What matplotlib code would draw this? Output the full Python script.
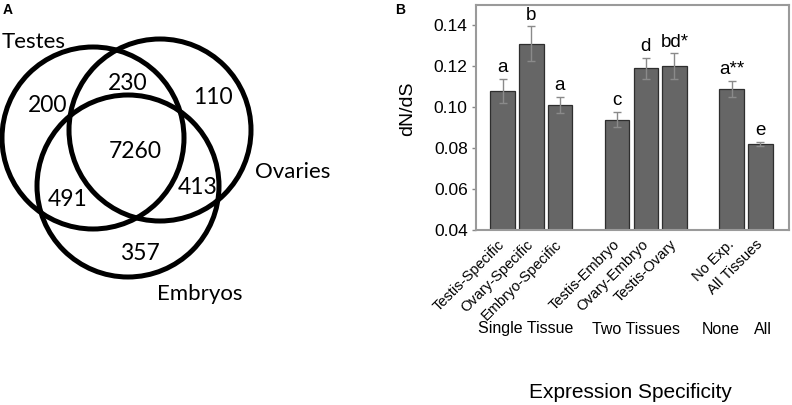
import matplotlib
matplotlib.use("Agg")
import matplotlib.pyplot as plt
from matplotlib.patches import Circle
import numpy as np

# ---------------------------------------------------------------------------
# Data
# ---------------------------------------------------------------------------

# Panel A: Venn counts
venn_sets   = ["Testes", "Ovaries", "Embryos"]
venn_labels = ["200", "230", "110", "7260", "491", "413", "357"]

# Panel B: dN/dS by expression specificity
categories = ["Testis-Specific", "Ovary-Specific", "Embryo-Specific",
              "Testis-Embryo", "Ovary-Embryo", "Testis-Ovary",
              "No Exp.", "All Tissues"]
dnds       = [0.108, 0.131, 0.101, 0.094, 0.119, 0.120, 0.109, 0.082]
dnds_err   = [0.006, 0.0085, 0.004, 0.0038, 0.005, 0.0063, 0.0038, 0.0009]
sig_letter = ["a", "b", "a", "c", "d", "bd*", "a**", "e"]
groups     = ["Single Tissue", "Two Tissues", "None", "All"]

# layout: slot of each bar (gap of one slot between groups)
bar_slots   = [0, 1, 2, 4, 5, 6, 8, 9]
group_slots = [0.8, 4.67, 7.62, 9.08]

# Venn layout in pixel space (panel A only)
circle_xy   = [(93, 138), (160, 130), (128, 186)]
circle_r    = 91
set_label_xy = [(34, 42), (293, 172), (200, 294)]
region_xy   = [(48, 105), (128, 83), (213, 97), (135, 152),
               (68, 199), (198, 187), (140, 253)]

W, H = 792, 405
fig = plt.figure(figsize=(W / 100, H / 100), dpi=100)

# ---------------------------------------------------------------------------
# Panel A: Venn diagram
# ---------------------------------------------------------------------------
axv = fig.add_axes([0, 0, 380 / W, 1])
axv.set_xlim(0, 380)
axv.set_ylim(H, 0)
axv.axis("off")
for (cx, cy) in circle_xy:
    axv.add_patch(Circle((cx, cy), circle_r, fill=False, lw=3.6, ec="black"))
for name, (x, y) in zip(venn_sets, set_label_xy):
    axv.text(x, y, name, ha="center", va="center", fontsize=16, family="Lato")
for lab, (x, y) in zip(venn_labels, region_xy):
    axv.text(x, y, lab, ha="center", va="center", fontsize=16.5, family="Lato")
fig.text(3 / W, 1 - 10 / H, "A", fontsize=10, fontweight="bold",
         family="Liberation Sans", ha="left", va="center")

# ---------------------------------------------------------------------------
# Panel B: bar chart
# ---------------------------------------------------------------------------
ax = fig.add_axes([476 / W, 1 - 230 / H, (789 - 476) / W, (230 - 5) / H])
font = "Liberation Sans"
ax.bar(bar_slots, dnds, width=0.86, color="#666666", edgecolor="#2e2e2e",
       linewidth=0.9, zorder=2)
ax.errorbar(bar_slots, dnds, yerr=dnds_err, fmt="none", ecolor="#8a8a8a",
            elinewidth=1, capsize=3, capthick=1, zorder=3)
for x, v, e, s in zip(bar_slots, dnds, dnds_err, sig_letter):
    ax.annotate(s, (x, v + e), xytext=(0, 2), textcoords="offset points",
                ha="center", va="bottom", fontsize=13.5, family=font)

ax.set_xlim(-0.93, 10.0)
ax.set_ylim(0.04, 0.15)
ax.set_yticks(np.arange(0.04, 0.141, 0.02))
ax.set_yticklabels([f"{t:.2f}" for t in np.arange(0.04, 0.141, 0.02)],
                   fontsize=12.5, family=font)
ax.set_xticks(bar_slots)
ax.set_xticklabels(categories, rotation=45, ha="right", va="center",
                   rotation_mode="anchor", fontsize=10.5, family=font)
ax.tick_params(axis="x", length=0, pad=9)
ax.tick_params(axis="y", length=3, width=1, color="#888888", pad=3)
for sp in ax.spines.values():
    sp.set_color("#9a9a9a")
    sp.set_linewidth(1.5)

ax.set_ylabel("dN/dS", fontsize=14, family=font)
ax.yaxis.set_label_coords(-0.19, 0.54)

for g, gx in zip(groups, group_slots):
    ax.text(gx, -0.44, g, transform=ax.get_xaxis_transform(),
            ha="center", va="center", fontsize=11.5, family=font)

fig.text(630 / W, 1 - 392 / H, "Expression Specificity", ha="center",
         va="center", fontsize=15, family=font)
fig.text(395 / W, 1 - 10 / H, "B", fontsize=10, fontweight="bold",
         family=font, ha="left", va="center")

fig.savefig("out.png", dpi=100)
